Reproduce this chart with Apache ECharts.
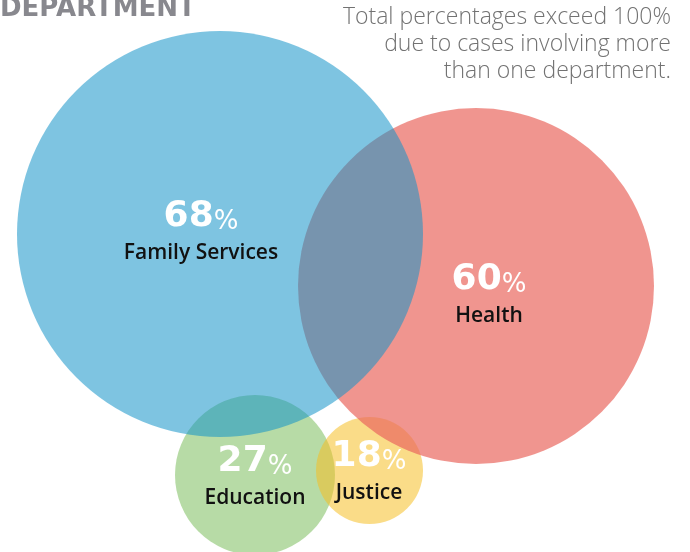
<!DOCTYPE html>
<html>
<head>
<meta charset="utf-8">
<script src="https://cdn.jsdelivr.net/npm/echarts@6/dist/echarts.min.js"></script>
<style>html,body{margin:0;padding:0;background:#fff;}#main{width:690px;height:552px;}</style>
</head>
<body>
<div id="main"></div>
<script>
// Departments and their share of cases (percent)
var departments = ['Education', 'Justice', 'Health', 'Family Services'];
var percentages = [27, 18, 60, 68];
// Venn circle layout in plot units (center x, center y, radius)
var circleX = [255, 369.5, 476, 220];
var circleY = [475, 470.5, 286, 234];
var circleR = [80, 53.5, 178, 203];
// Label anchor points in plot units
var labelX = [255, 369, 489, 201];
var labelY = [478, 473, 296, 233];
var colors = ['rgba(124,190,93,0.55)', 'rgba(246,190,36,0.54)', 'rgba(234,104,95,0.7)', 'rgba(20,148,200,0.55)'];
var title = 'DEPARTMENT';
var noteLines = ['Total percentages exceed 100%', 'due to cases involving more', 'than one department.'];

var circleData = departments.map(function (d, i) { return [circleX[i], circleY[i], circleR[i], i]; });
var labelData = departments.map(function (d, i) { return [labelX[i], labelY[i], percentages[i], i]; });

var chart = echarts.init(document.getElementById('main'));
chart.setOption({
  animation: false,
  grid: { left: 0, right: 0, top: 0, bottom: 0 },
  xAxis: { type: 'value', min: 0, max: 690, show: false },
  yAxis: { type: 'value', min: 0, max: 552, inverse: true, show: false },
  graphic: [
    { type: 'text', x: 0, y: -4, style: { text: title, fontFamily: 'DejaVu Sans', fontWeight: 'bold', fontSize: 26, fill: '#88888e' } },
    { type: 'text', x: 671, y: 4, style: { text: noteLines.join('\n'), fontFamily: 'Open Sans', fontWeight: 300, fontSize: 23, lineHeight: 27, fill: '#727272', align: 'right', verticalAlign: 'top' } }
  ],
  series: [
    {
      type: 'custom',
      coordinateSystem: 'cartesian2d',
      data: circleData,
      renderItem: function (params, api) {
        var c = api.coord([api.value(0), api.value(1)]);
        var r = api.size([api.value(2), 0])[0];
        return { type: 'circle', shape: { cx: c[0], cy: c[1], r: r }, style: { fill: colors[api.value(3)] }, z2: api.value(3) };
      }
    },
    {
      type: 'custom',
      coordinateSystem: 'cartesian2d',
      z: 5,
      data: labelData,
      renderItem: function (params, api) {
        var c = api.coord([api.value(0), api.value(1)]);
        var i = api.value(3);
        return {
          type: 'text',
          x: c[0], y: c[1],
          style: {
            text: '{num|' + api.value(2) + '}{pct|%}\n{name|' + departments[i] + '}',
            align: 'center', verticalAlign: 'middle',
            rich: {
              num: { fontFamily: 'DejaVu Sans', fontWeight: 'bold', fontSize: 36, fill: '#ffffff', lineHeight: 40, verticalAlign: 'bottom' },
              pct: { fontFamily: 'DejaVu Sans', fontWeight: 'normal', fontSize: 26, fill: '#ffffff', lineHeight: 40, verticalAlign: 'bottom' },
              name: { fontFamily: 'Open Sans', fontWeight: 600, fontSize: 21, fill: '#111111', lineHeight: 36 }
            }
          }
        };
      }
    }
  ]
});
</script>
</body>
</html>
